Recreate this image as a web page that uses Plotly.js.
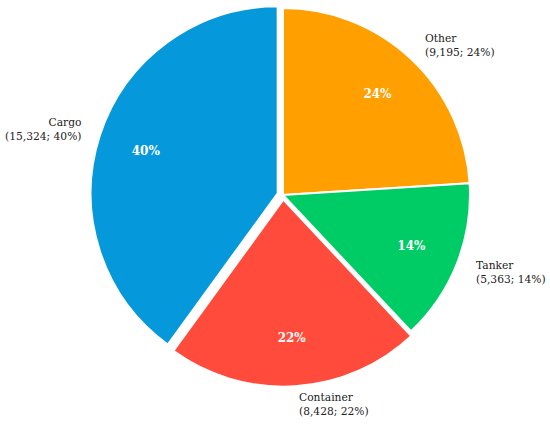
<!DOCTYPE html>
<html>
<head>
<meta charset="utf-8">
<script src="https://cdn.plot.ly/plotly-3.0.1.min.js"></script>
<style>html,body{margin:0;padding:0;background:#fff;}#chart{width:550px;height:426px;}</style>
</head>
<body>
<div id="chart"></div>
<script>
// Data
var categories = ["Other", "Tanker", "Container", "Cargo"];
var counts = [9195, 5363, 8428, 15324];
var colors = ["#FF9F00", "#00CC66", "#FF4B3C", "#0598DB"];
var pulls = [0, 0, 0.025, 0.03];

var total = counts.reduce(function(a, b) { return a + b; }, 0);
function fmt(n) { return n.toLocaleString("en-US"); }

// outside label placement (paper coords) and alignment
var labelPos = [
  {x: 0.769, y: 0.894, xanchor: "left", align: "left"},
  {x: 0.861, y: 0.361, xanchor: "left", align: "left"},
  {x: 0.54, y: 0.05, xanchor: "left", align: "left"},
  {x: 0.152, y: 0.696, xanchor: "right", align: "right"}
];

var annotations = categories.map(function(c, i) {
  var pct = Math.round(counts[i] / total * 100);
  return {
    xref: "paper", yref: "paper",
    x: labelPos[i].x, y: labelPos[i].y,
    xanchor: labelPos[i].xanchor, yanchor: "middle",
    align: labelPos[i].align,
    showarrow: false,
    text: c + "<br>(" + fmt(counts[i]) + "; " + pct + "%)",
    font: {family: "DejaVu Serif", size: 10.7, color: "#222"}
  };
});

var dom = {x: [0.1644, 0.8647], y: [0.0901, 0.9944]};

var fills = {
  type: "pie",
  labels: categories,
  values: counts,
  sort: false,
  direction: "clockwise",
  rotation: 0,
  pull: pulls,
  marker: {colors: colors, line: {color: "#ffffff", width: 2}},
  textinfo: "none",
  hoverinfo: "none",
  domain: dom,
  showlegend: false
};

// transparent ring carrying the percentage labels further out
var pctRing = {
  type: "pie",
  labels: categories,
  values: counts,
  sort: false,
  direction: "clockwise",
  rotation: 0,
  pull: pulls,
  hole: 0.48,
  marker: {colors: categories.map(function() { return "rgba(0,0,0,0)"; }), line: {width: 0}},
  texttemplate: "<b>%{percent:.0%}</b>",
  textposition: "inside",
  insidetextorientation: "horizontal",
  textfont: {family: "DejaVu Serif", size: 12, color: "#ffffff"},
  hoverinfo: "none",
  domain: dom,
  showlegend: false
};

var layout = {
  width: 550, height: 426,
  margin: {l: 0, r: 0, t: 0, b: 0},
  paper_bgcolor: "#ffffff",
  plot_bgcolor: "#ffffff",
  showlegend: false,
  annotations: annotations
};

Plotly.newPlot("chart", [fills, pctRing], layout, {displayModeBar: false, staticPlot: true});
</script>
</body>
</html>
